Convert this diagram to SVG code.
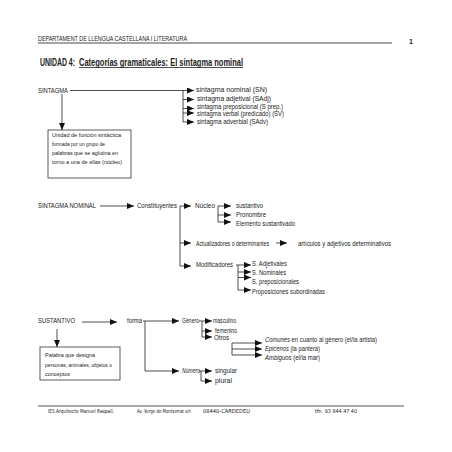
<svg xmlns="http://www.w3.org/2000/svg" width="452" height="452" viewBox="0 0 452 452">
<style>
text{font-family:"Liberation Sans",Arial,sans-serif;font-size:6.5px;fill:#222}
.hd{font-size:6.5px}
.ti{font-size:10px;font-weight:bold}
.bx{font-size:6px}
.ft{font-family:"DejaVu Sans",sans-serif;font-size:5.5px}
.it{font-style:italic}
.c line,.c path{stroke:#222;stroke-width:0.8;fill:none}
.a{marker-end:url(#ah)}
rect{fill:#fff;stroke:#333;stroke-width:0.8}
</style>
<defs>
<marker id="ah" viewBox="0 0 7 6" refX="7" refY="3" markerWidth="7" markerHeight="6" orient="auto" markerUnits="userSpaceOnUse"><path d="M0,0 L7,3 L0,6 z" fill="#111"/></marker>
</defs>
<rect x="0" y="0" width="452" height="452" style="stroke:none"/>

<g id="header">
<text class="hd" x="38" y="40.5" textLength="149" lengthAdjust="spacingAndGlyphs">DEPARTAMENT DE LLENGUA CASTELLANA I LITERATURA</text>
<line x1="38" y1="43" x2="392" y2="43" stroke="#333" stroke-width="0.9"/>
<text x="409" y="44" style="font-size:7px;font-weight:bold">1</text>
<text class="ti" x="40" y="65.5" textLength="35" lengthAdjust="spacingAndGlyphs">UNIDAD 4:</text>
<text class="ti" x="79" y="65.5" textLength="164" lengthAdjust="spacingAndGlyphs">Categorías gramaticales: El sintagma nominal</text>
<line x1="79" y1="67.5" x2="243" y2="67.5" stroke="#222" stroke-width="0.8"/>
</g>

<g class="c" id="connectors">
<line x1="70" y1="90.5" x2="183" y2="90.5"/>
<line x1="183" y1="90.5" x2="183" y2="122"/>
<line class="a" x1="183" y1="90.5" x2="194" y2="90.5"/>
<line class="a" x1="183" y1="99.5" x2="194" y2="99.5"/>
<line class="a" x1="183" y1="108.5" x2="194" y2="108.5"/>
<line class="a" x1="183" y1="113" x2="194" y2="113"/>
<line class="a" x1="183" y1="122" x2="194" y2="122"/>
<line class="a" x1="62" y1="94" x2="62" y2="130"/>
<line class="a" x1="100" y1="206" x2="134" y2="206"/>
<line x1="180" y1="206" x2="180" y2="266"/>
<line class="a" x1="180" y1="206" x2="191" y2="206"/>
<line class="a" x1="180" y1="243" x2="191" y2="243"/>
<line class="a" x1="180" y1="266" x2="191" y2="266"/>
<line x1="218" y1="206" x2="218" y2="222"/>
<line class="a" x1="218" y1="206" x2="231" y2="206"/>
<line class="a" x1="218" y1="215" x2="231" y2="215"/>
<line class="a" x1="218" y1="222" x2="231" y2="222"/>
<line class="a" x1="276" y1="243" x2="287" y2="243"/>
<line x1="236" y1="265" x2="238" y2="265"/>
<line x1="238" y1="265" x2="238" y2="290"/>
<line class="a" x1="238" y1="265" x2="251" y2="265"/>
<line class="a" x1="238" y1="272" x2="251" y2="272"/>
<line class="a" x1="238" y1="277.5" x2="251" y2="277.5"/>
<line class="a" x1="238" y1="290" x2="251" y2="290"/>
<line class="a" x1="82" y1="322" x2="117" y2="322"/>
<line class="a" x1="57" y1="329" x2="57" y2="347"/>
<line x1="145" y1="321" x2="145" y2="371"/>
<line class="a" x1="143" y1="321" x2="179" y2="321"/>
<line class="a" x1="145" y1="371" x2="179" y2="371"/>
<line x1="202" y1="321" x2="202" y2="337"/>
<line class="a" x1="199" y1="321" x2="212" y2="321"/>
<line class="a" x1="202" y1="331" x2="212" y2="331"/>
<line class="a" x1="202" y1="337" x2="212" y2="337"/>
<line x1="206" y1="331" x2="206" y2="337"/>
<line x1="232" y1="343" x2="232" y2="355"/>
<line class="a" x1="232" y1="343" x2="262" y2="343"/>
<line class="a" x1="232" y1="349" x2="262" y2="349"/>
<line class="a" x1="232" y1="355" x2="262" y2="355"/>
<line x1="201" y1="371" x2="201" y2="381"/>
<line class="a" x1="199" y1="371" x2="212" y2="371"/>
<line class="a" x1="201" y1="381" x2="212" y2="381"/>
</g>

<g id="n-sintagma"><text x="38" y="92.7" textLength="30" lengthAdjust="spacingAndGlyphs">SINTAGMA</text></g>
<g id="n-sn"><text x="196" y="92.2" textLength="71" lengthAdjust="spacingAndGlyphs">sintagma nominal   (SN)</text></g>
<g id="n-sadj"><text x="197" y="101.2" textLength="74" lengthAdjust="spacingAndGlyphs">sintagma adjetival   (SAdj)</text></g>
<g id="n-sprep"><text x="197" y="108.9" textLength="86" lengthAdjust="spacingAndGlyphs">sintagma preposicional  (S prep.)</text></g>
<g id="n-sv"><text x="197" y="116.2" textLength="87" lengthAdjust="spacingAndGlyphs">sintagma verbal (predicado)  (SV)</text></g>
<g id="n-sadv"><text x="197" y="123.9" textLength="71" lengthAdjust="spacingAndGlyphs">sintagma adverbial   (SAdv)</text></g>
<g id="n-def-sintagma">
<rect x="48" y="130" width="83" height="48"/>
<text class="bx" x="52" y="137.2" textLength="69" lengthAdjust="spacingAndGlyphs">Unidad de función sintáctica</text>
<text class="bx" x="52" y="146.2" textLength="53" lengthAdjust="spacingAndGlyphs">formada por un grupo de</text>
<text class="bx" x="52" y="154.9" textLength="66" lengthAdjust="spacingAndGlyphs">palabras que se aglutina en</text>
<text class="bx" x="52" y="163.9" textLength="70" lengthAdjust="spacingAndGlyphs">torno a una de ellas (núcleo)</text>
</g>

<g id="n-snominal"><text x="38" y="208" textLength="58" lengthAdjust="spacingAndGlyphs">SINTAGMA NOMINAL</text></g>
<g id="n-constituyentes"><text x="137" y="208" textLength="40" lengthAdjust="spacingAndGlyphs">Constituyentes</text></g>
<g id="n-nucleo"><text x="195" y="208" textLength="20" lengthAdjust="spacingAndGlyphs">Núcleo</text></g>
<g id="n-sustantivo"><text x="236" y="208" textLength="27" lengthAdjust="spacingAndGlyphs">sustantivo</text></g>
<g id="n-pronombre"><text x="236" y="217" textLength="30" lengthAdjust="spacingAndGlyphs">Pronombre</text></g>
<g id="n-elemento"><text x="236" y="225.5" textLength="59" lengthAdjust="spacingAndGlyphs">Elemento sustantivado</text></g>
<g id="n-actualizadores"><text x="196" y="245.5" textLength="73" lengthAdjust="spacingAndGlyphs">Actualizadores o determinantes</text></g>
<g id="n-articulos"><text x="298" y="245.5" textLength="93" lengthAdjust="spacingAndGlyphs">artículos y adjetivos determinativos</text></g>
<g id="n-modificadores"><text x="196" y="266.5" textLength="37" lengthAdjust="spacingAndGlyphs">Modificadores</text></g>
<g id="n-sadjetivales"><text x="252" y="265.5" textLength="35" lengthAdjust="spacingAndGlyphs">S. Adjetivales</text></g>
<g id="n-snominales"><text x="252" y="275" textLength="34" lengthAdjust="spacingAndGlyphs">S. Nominales</text></g>
<g id="n-spreposicionales"><text x="252" y="284" textLength="47" lengthAdjust="spacingAndGlyphs">S. preposicionales</text></g>
<g id="n-proposiciones"><text x="252" y="294" textLength="73" lengthAdjust="spacingAndGlyphs">Proposiciones subordinadas</text></g>

<g id="n-sustantivo-h"><text x="38" y="323" textLength="37" lengthAdjust="spacingAndGlyphs">SUSTANTIVO</text></g>
<g id="n-def-sustantivo">
<rect x="40" y="347" width="80" height="33"/>
<text class="bx" x="45" y="357" textLength="50" lengthAdjust="spacingAndGlyphs">Palabra que designa</text>
<text class="bx" x="45" y="366.5" textLength="67" lengthAdjust="spacingAndGlyphs">personas, animales, objetos o</text>
<text class="bx" x="45" y="375.5" textLength="25" lengthAdjust="spacingAndGlyphs">conceptos</text>
</g>
<g id="n-forma"><text x="127" y="323" textLength="15" lengthAdjust="spacingAndGlyphs">forma</text></g>
<g id="n-genero"><text x="182" y="323" textLength="17" lengthAdjust="spacingAndGlyphs">Género</text></g>
<g id="n-masculino"><text x="213" y="323" textLength="23" lengthAdjust="spacingAndGlyphs">masculino</text></g>
<g id="n-femenino"><text x="215" y="332.5" textLength="22" lengthAdjust="spacingAndGlyphs">femenino</text></g>
<g id="n-otros"><text x="214" y="339.5" textLength="15" lengthAdjust="spacingAndGlyphs">Otros</text></g>
<g id="n-comunes"><text x="265" y="341.5" textLength="112" lengthAdjust="spacingAndGlyphs"><tspan class="it">Comunes</tspan> en cuanto al género (el/la artista)</text></g>
<g id="n-epicenos"><text x="265" y="351" textLength="55" lengthAdjust="spacingAndGlyphs"><tspan class="it">Epicenos</tspan> (la pantera)</text></g>
<g id="n-ambiguos"><text x="265" y="359.5" textLength="55" lengthAdjust="spacingAndGlyphs"><tspan class="it">Ambiguos</tspan> (el/la mar)</text></g>
<g id="n-numero"><text class="it" x="182" y="373" textLength="18" lengthAdjust="spacingAndGlyphs">Número</text></g>
<g id="n-singular"><text x="215" y="373" textLength="22" lengthAdjust="spacingAndGlyphs">singular</text></g>
<g id="n-plural"><text x="215" y="383" textLength="17" lengthAdjust="spacingAndGlyphs">plural</text></g>

<g id="footer">
<line x1="38" y1="406" x2="404" y2="406" stroke="#555" stroke-width="1"/>
<text class="ft" x="48" y="413" textLength="66" lengthAdjust="spacingAndGlyphs">IES Arquitecte Manuel Raspall.</text>
<text class="ft" x="137" y="413" textLength="54" lengthAdjust="spacingAndGlyphs">Av. Verge de Montserrat s/n</text>
<text class="ft" x="203" y="413" textLength="47" lengthAdjust="spacingAndGlyphs">08440-CARDEDEU</text>
<text class="ft" x="315" y="413" textLength="42" lengthAdjust="spacingAndGlyphs">tfn. 93 844 47 40</text>
</g>
</svg>
